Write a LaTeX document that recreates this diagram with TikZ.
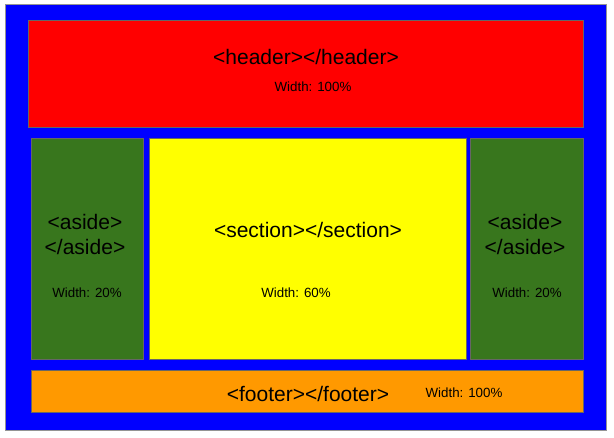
\documentclass[tikz,border=0pt]{standalone}
\usepackage{fontspec}
\setmainfont{Liberation Sans}
\definecolor{bgblue}{HTML}{0000FF}
\definecolor{hdred}{HTML}{FF0000}
\definecolor{asgreen}{HTML}{38761D}
\definecolor{secyellow}{HTML}{FFFF00}
\definecolor{ftorange}{HTML}{FF9900}
\definecolor{edgegray}{HTML}{666666}
\tikzset{
  box/.style={draw=edgegray, line width=0.75pt},
  big/.style={font=\fontsize{15.75pt}{19pt}\selectfont, text=black, inner sep=0pt, align=center},
  small/.style={font=\fontsize{10pt}{12pt}\selectfont, text=black, inner sep=0pt},
}
\begin{document}
\begin{tikzpicture}[x=0.75pt,y=-0.75pt]
\useasboundingbox (0,0) rectangle (614,438);
\fill[white] (0,0) rectangle (614,438);
\draw[box, draw=edgegray!70, fill=bgblue] (5,4.5) rectangle (606,430);
\draw[box, fill=hdred] (28,21) rectangle (583,128);
\draw[box, fill=asgreen] (31,139) rectangle (143,359);
\draw[box, fill=secyellow] (149,139) rectangle (466,359);
\draw[box, fill=asgreen] (470,139) rectangle (583,359);
\draw[box, fill=ftorange] (31,370.5) rectangle (583,412);
\node[big] (ht) at (306,57) {<header></header>};
\node[small] (hw) at (313,87) {Width: 100\%};
\node[big] (a1) at (85,234.5) {<aside>\\</aside>};
\node[small] (a1w) at (87,293) {Width: 20\%};
\node[big] (st) at (308,230) {<section></section>};
\node[small] (sw) at (296,293) {Width: 60\%};
\node[big] (a2) at (525,234.5) {<aside>\\</aside>};
\node[small] (a2w) at (527,293) {Width: 20\%};
\node[big] (ft) at (308,394) {<footer></footer>};
\node[small] (fw) at (464,393) {Width: 100\%};
\end{tikzpicture}
\end{document}
